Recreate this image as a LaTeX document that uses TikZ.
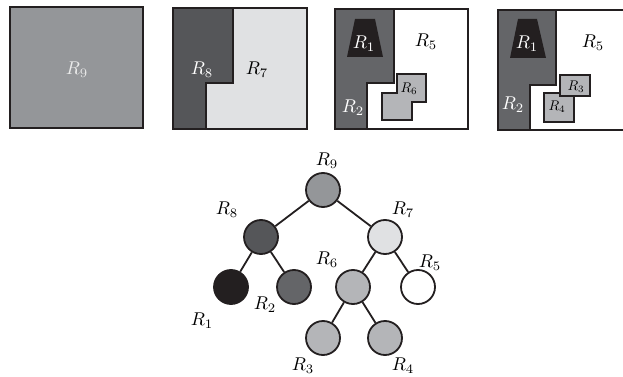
\documentclass[tikz,border=0pt]{standalone}
\usepackage{graphicx}
\definecolor{cnine}{RGB}{148,150,153}
\definecolor{ceight}{RGB}{85,86,89}
\definecolor{cseven}{RGB}{224,225,227}
\definecolor{cone}{RGB}{35,31,32}
\definecolor{ctwo}{RGB}{100,101,104}
\definecolor{csix}{RGB}{180,181,184}
\definecolor{line}{RGB}{35,31,32}
\newcommand{\BigR}[1]{\scalebox{1.85}{$R_{#1}$}}
\newcommand{\SmallR}[1]{\scalebox{1.4}{$R_{#1}$}}
\begin{document}
\begin{tikzpicture}[x=1pt,y=-1pt,
  region/.style={draw=line,line width=2.5pt,line join=miter},
  lab/.style={inner sep=0pt},
  tnode/.style={circle,draw=line,line width=1.8pt,minimum size=34pt,inner sep=0pt},
  tedge/.style={draw=line,line width=1.8pt}]
\useasboundingbox (0,0) rectangle (623,377);
\clip (0,0) rectangle (623,377);
% Panel 1
\fill[cnine] (10,7) rectangle (143,128);
\draw[region] (10,7) rectangle (143,128);
\node[lab,text=white!92!black] (p1r9) at (77,70) {\BigR{9}};
% Panel 2
\fill[cseven] (173,8) rectangle (307,129);
\fill[ceight] (173,8) -- (233,8) -- (233,83) -- (206,83) -- (206,129) -- (173,129) -- cycle;
\draw[region] (233,8) -- (233,83) -- (206,83) -- (206,129);
\draw[region] (173,8) rectangle (307,129);
\node[lab,text=white] (p2r8) at (202,70) {\BigR{8}};
\node[lab] (p2r7) at (257,70) {\BigR{7}};
% Panel 3
\fill[white] (335,9) rectangle (468,129);
\fill[ctwo] (335,9) -- (394,9) -- (394,83) -- (367,83) -- (367,129) -- (335,129) -- cycle;
\draw[region] (394,9) -- (394,83) -- (367,83) -- (367,129);
\fill[cone] (355,19) -- (375,19) -- (383,57) -- (347,57) -- cycle;
\draw[region,fill=csix] (397,74) -- (426,74) -- (426,102) -- (412,102) -- (412,120) -- (382,120) -- (382,93) -- (397,93) -- cycle;
\draw[region] (335,9) rectangle (468,129);
\node[lab,text=white] (p3r1) at (364,44) {\BigR{1}};
\node[lab] (p3r5) at (426,42) {\BigR{5}};
\node[lab] (p3r6) at (409,89) {\SmallR{6}};
\node[lab,text=white] (p3r2) at (353,108) {\BigR{2}};
% Panel 4
\fill[white] (498,10) rectangle (632,130);
\fill[ctwo] (498,10) -- (556,10) -- (556,85) -- (530,85) -- (530,130) -- (498,130) -- cycle;
\draw[region] (556,10) -- (556,85) -- (530,85) -- (530,130);
\fill[cone] (518,19) -- (537,19) -- (546,58) -- (510,58) -- cycle;
\draw[region,fill=csix] (544,93) rectangle (574,122);
\draw[region,fill=csix] (560,75) rectangle (590,96);
\draw[region] (498,10) rectangle (632,130);
\node[lab,text=white] (p4r1) at (527,44) {\BigR{1}};
\node[lab] (p4r5) at (593,43) {\BigR{5}};
\node[lab] (p4r3) at (576,87) {\SmallR{3}};
\node[lab] (p4r4) at (557,107) {\SmallR{4}};
\node[lab,text=white] (p4r2) at (513,105) {\BigR{2}};
% Tree
\node[tnode,fill=cnine] (t9) at (323,190) {};
\node[tnode,fill=ceight] (t8) at (261,237) {};
\node[tnode,fill=cseven] (t7) at (385,237) {};
\node[tnode,fill=cone] (t1) at (231,287) {};
\node[tnode,fill=ctwo] (t2) at (294,287) {};
\node[tnode,fill=csix] (t6) at (353,287) {};
\node[tnode,fill=white] (t5) at (418,287) {};
\node[tnode,fill=csix] (t3) at (323,338) {};
\node[tnode,fill=csix] (t4) at (385,338) {};
\draw[tedge] (t9) -- (t8);
\draw[tedge] (t9) -- (t7);
\draw[tedge] (t8) -- (t1);
\draw[tedge] (t8) -- (t2);
\draw[tedge] (t7) -- (t6);
\draw[tedge] (t7) -- (t5);
\draw[tedge] (t6) -- (t3);
\draw[tedge] (t6) -- (t4);
\node[lab] (l9) at (327,161) {\BigR{9}};
\node[lab] (l8) at (227,210) {\BigR{8}};
\node[lab] (l7) at (403,210) {\BigR{7}};
\node[lab] (l6) at (327,260) {\BigR{6}};
\node[lab] (l5) at (430,263) {\BigR{5}};
\node[lab] (l1) at (202,321) {\BigR{1}};
\node[lab] (l2) at (265,305) {\BigR{2}};
\node[lab] (l3) at (303,366) {\BigR{3}};
\node[lab] (l4) at (403,366) {\BigR{4}};
\end{tikzpicture}
\end{document}
